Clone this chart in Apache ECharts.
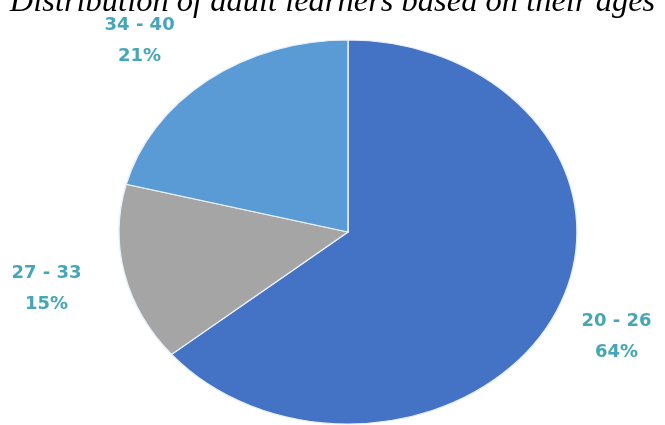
<!DOCTYPE html>
<html>
<head>
<meta charset="utf-8">
<style>
  html, body { margin: 0; padding: 0; background: #ffffff; }
  #chart { width: 665px; height: 425px; }
</style>
<script src="https://cdn.jsdelivr.net/npm/echarts@6/dist/echarts.min.js"></script>
</head>
<body>
<div id="chart"></div>
<script>
// Age groups of adult learners and their share (%)
const ageGroups = ['20 - 26', '27 - 33', '34 - 40'];
const shares = [64, 15, 21];
const sliceColors = ['#4472C4', '#A5A5A5', '#5B9BD5'];

const titleText = 'Distribution of adult learners based on their ages';

// Ellipse geometry of the pie (horizontal radius is wider than vertical)
const CX = 348, CY = 232, RX = 229, RY = 192;
// Distance of the label centres beyond the rim, plus small per-label nudges
const LABEL_PAD_X = 80, LABEL_PAD_Y = 55;
const labelNudge = [[-11, 0], [0, 3], [-19, 4]];

const total = shares.reduce((a, b) => a + b, 0);

function sliceAngles(idx, api) {
  let before = 0;
  for (let i = 0; i < idx; i++) before += shares[i];
  const v = api.value(1);
  const start = -Math.PI / 2 + 2 * Math.PI * before / total;
  const end = start + 2 * Math.PI * v / total;
  return { start, end, mid: (start + end) / 2, v };
}

const chart = echarts.init(document.getElementById('chart'), null, { renderer: 'canvas' });

chart.setOption({
  backgroundColor: '#ffffff',
  animation: false,
  title: {
    text: titleText,
    left: 'center',
    top: -19,
    textStyle: {
      fontFamily: 'Liberation Serif, Times New Roman, serif',
      fontStyle: 'italic',
      fontWeight: 'normal',
      fontSize: 32.5,
      color: '#000000'
    }
  },
  series: [{
    type: 'custom',
    coordinateSystem: 'none',
    data: shares.map((v, i) => [i, v]),
    renderItem: function (params, api) {
      const idx = params.dataIndex;
      const a = sliceAngles(idx, api);
      const dx = Math.cos(a.mid), dy = Math.sin(a.mid);
      const lx = CX + (RX + LABEL_PAD_X) * dx + labelNudge[idx][0];
      const ly = CY + (RY + LABEL_PAD_Y) * dy + labelNudge[idx][1];
      return {
        type: 'group',
        children: [
          {
            type: 'sector',
            x: CX, y: CY,
            scaleX: RX / RY, scaleY: 1,
            shape: { cx: 0, cy: 0, r0: 0, r: RY, startAngle: a.start, endAngle: a.end, clockwise: true },
            style: {
              fill: sliceColors[idx],
              stroke: '#e8f0fa',
              lineWidth: 1.2
            }
          },
          {
            type: 'text',
            x: lx, y: ly,
            style: {
              text: ageGroups[idx] + '\n' + a.v + '%',
              align: 'center',
              verticalAlign: 'middle',
              fontFamily: 'DejaVu Sans, sans-serif',
              fontWeight: 'bold',
              fontSize: 18,
              lineHeight: 31,
              fill: '#44A6B8'
            }
          }
        ]
      };
    }
  }]
});
</script>
</body>
</html>
